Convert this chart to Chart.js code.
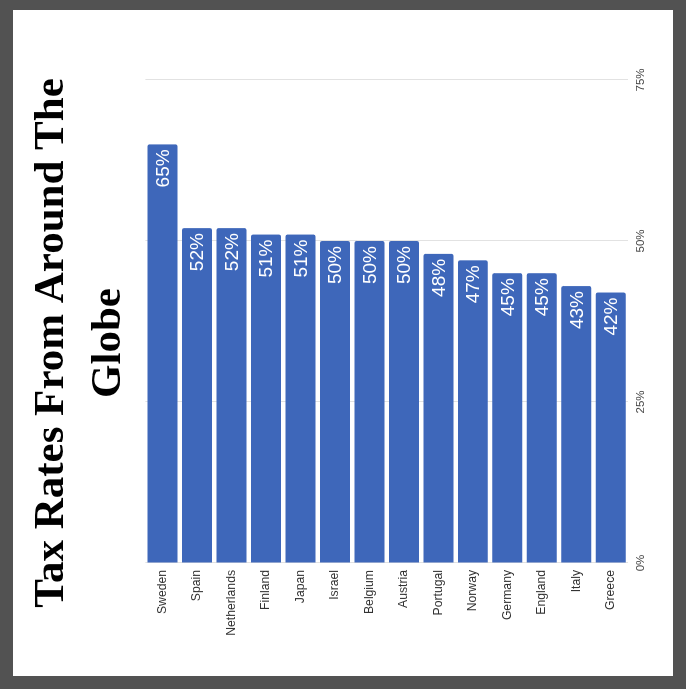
<!DOCTYPE html>
<html>
<head>
<meta charset="utf-8">
<title>Tax Rates From Around The Globe</title>
<script src="https://cdn.jsdelivr.net/npm/chart.js@4"></script>
<style>
  html, body { margin: 0; padding: 0; }
  body { width: 686px; height: 689px; background: #525252; position: relative; overflow: hidden; }
  /* white card inside the dark frame */
  .sheet { position: absolute; left: 13px; top: 10px; width: 660px; height: 666px; background: #fff; }
  /* the chart is laid out as a horizontal bar chart and turned a quarter left */
  .turn { position: absolute; left: 10px; top: 13px; width: 666px; height: 660px; transform: rotate(-90deg); }
</style>
</head>
<body>
<div class="sheet"></div>
<div class="turn"><canvas id="taxChart" width="666" height="660"></canvas></div>

<script>
// ─── Data ────────────────────────────────────────────────
const countries = ['Sweden', 'Spain', 'Netherlands', 'Finland', 'Japan', 'Israel', 'Belgium',
                   'Austria', 'Portugal', 'Norway', 'Germany', 'England', 'Italy', 'Greece'];
const rates = [65, 52, 52, 51, 51, 50, 50, 50, 48, 47, 45, 45, 43, 42];
const rateTicks = [0, 25, 50, 75];

const BAR_COLOR = '#3e67ba';
const SANS = "'Liberation Sans', Arial, sans-serif";

// ─── Value labels inside the bar ends ────────────────────
const valueLabels = {
    id: 'valueLabels',
    afterDatasetsDraw(chart) {
        const ctx = chart.ctx;
        const meta = chart.getDatasetMeta(0);
        ctx.save();
        ctx.fillStyle = '#ffffff';
        ctx.font = `19px ${SANS}`;
        ctx.textAlign = 'right';
        ctx.textBaseline = 'middle';
        meta.data.forEach((bar, i) => {
            ctx.fillText(`${rates[i]}%`, bar.x - 5, bar.y + 1);
        });
        ctx.restore();
    }
};

// ─── Chart ───────────────────────────────────────────────
const ctx = document.getElementById('taxChart').getContext('2d');
new Chart(ctx, {
    type: 'bar',
    data: {
        labels: countries,
        datasets: [{
            data: rates,
            backgroundColor: BAR_COLOR,
            borderWidth: 0,
            borderRadius: 2,
            borderSkipped: 'start',
            barPercentage: 0.87,
            categoryPercentage: 1
        }]
    },
    options: {
        indexAxis: 'y',
        responsive: false,
        animation: false,
        layout: { padding: { left: 0, right: 0, top: 0, bottom: 20 } },
        plugins: {
            legend: { display: false },
            tooltip: { enabled: false },
            title: {
                display: true,
                text: ['Tax Rates From Around The', 'Globe'],
                color: '#000',
                font: { family: "'Liberation Serif', 'Times New Roman', serif", size: 43, weight: 'bold', lineHeight: 1.33 },
                padding: { top: 10, bottom: 8 }
            }
        },
        scales: {
            x: {
                min: 0,
                max: 75,
                afterBuildTicks: axis => { axis.ticks = rateTicks.map(v => ({ value: v })); },
                afterFit: axis => { axis.height = 25; },
                grid: { color: '#e2e2e2', drawTicks: false },
                border: { display: false },
                ticks: {
                    color: '#444',
                    font: { family: SANS, size: 11.5 },
                    padding: 6,
                    callback: v => `${v}%`
                }
            },
            y: {
                afterFit: axis => { axis.width = 113; },
                grid: { display: false, drawTicks: false },
                border: { display: false },
                ticks: {
                    color: '#333',
                    font: { family: SANS, size: 12.2 },
                    padding: 7
                }
            },
            // empty strip on the far side keeping room past the 75% line
            gutter: {
                type: 'category',
                axis: 'y',
                position: 'right',
                afterFit: axis => { axis.width = 70; },
                grid: { display: false, drawTicks: false },
                border: { display: false },
                ticks: { display: false }
            }
        }
    },
    plugins: [valueLabels]
});
</script>
</body>
</html>
